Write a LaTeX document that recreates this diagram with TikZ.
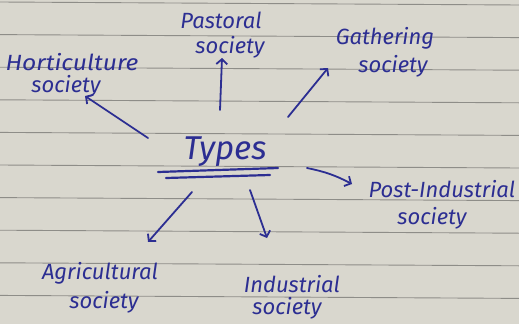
\documentclass[tikz,border=0pt]{standalone}
\usepackage{fontspec}
\setmainfont{Fira Sans}
\usetikzlibrary{arrows.meta}
\definecolor{paper}{HTML}{D9D7CE}
\definecolor{rule}{HTML}{8E8D88}
\definecolor{ink}{HTML}{2C2E92}
\tikzset{
  lbl/.style={text=ink, font=\itshape\fontsize{22}{24}\selectfont, inner sep=0pt},
  arr/.style={draw=ink, line width=1.8pt, line cap=round,
    -{Straight Barb[length=5pt,width=11pt,line width=1.8pt]}},
  ul/.style={draw=ink, line width=2.2pt, line cap=round},
  paperline/.style={draw=rule, line width=0.9pt}
}
\begin{document}
\begin{tikzpicture}[x=1pt,y=-1pt]
\fill[paper] (0,0) rectangle (519,324);
\useasboundingbox (0,0) rectangle (519,324);
\foreach \k in {0,...,9}{
  \draw[paperline] (0,{2+32.6*\k}) -- (519,{5+32.6*\k});
}
% centre
\node[lbl, font=\itshape\fontsize{33}{35}\selectfont] (types) at (225,152) {Types};
\coordinate (u1a) at (158,172); \coordinate (u1b) at (278,168);
\coordinate (u2a) at (166,178); \coordinate (u2b) at (270,175);
\draw[ul] (u1a) -- (u1b);
\draw[ul] (u2a) -- (u2b);
% labels
\node[lbl, xscale=1.12] (hort1) at (72,62) {Horticulture};
\node[lbl] (hort2) at (66,86) {society};
\node[lbl] (past1) at (221,20) {Pastoral};
\node[lbl] (past2) at (230,47) {society};
\node[lbl] (gath1) at (385,38) {Gathering};
\node[lbl] (gath2) at (393,66) {society};
\node[lbl] (post1) at (442,189) {Post-Industrial};
\node[lbl] (post2) at (432,218) {society};
\node[lbl] (agri1) at (100,273) {Agricultural};
\node[lbl] (agri2) at (104,302) {society};
\node[lbl] (ind1) at (292,284) {Industrial};
\node[lbl] (ind2) at (287,308) {society};
% arrow ends
\coordinate (sH) at (148,138); \coordinate (tH) at (85,96);
\coordinate (sP) at (220,110); \coordinate (tP) at (222,58);
\coordinate (sG) at (288,117); \coordinate (tG) at (328,68);
\coordinate (sPI) at (307,168); \coordinate (tPI) at (352,184);
\coordinate (sA) at (192,192); \coordinate (tA) at (148,242);
\coordinate (sI) at (250,190); \coordinate (tI) at (267,238);
\draw[arr] (sH) -- (tH);
\draw[arr] (sP) -- (tP);
\draw[arr] (sG) -- (tG);
\draw[arr] (sPI) to[bend left=8] (tPI);
\draw[arr] (sA) -- (tA);
\draw[arr] (sI) -- (tI);
\end{tikzpicture}
\end{document}
